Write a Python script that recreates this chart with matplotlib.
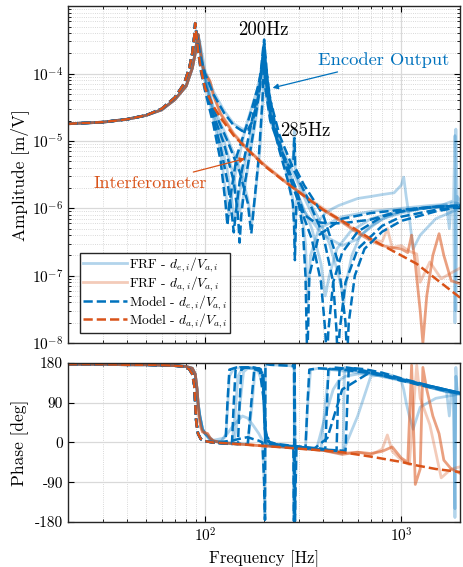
import numpy as np
import matplotlib
matplotlib.use('Agg')
import matplotlib.pyplot as plt
from matplotlib.lines import Line2D

plt.rcParams['font.family'] = 'serif'
plt.rcParams['font.serif'] = ['cmr10']
plt.rcParams['mathtext.fontset'] = 'cm'
plt.rcParams['axes.formatter.use_mathtext'] = True
plt.rcParams['axes.unicode_minus'] = False

BLUE = '#0072BD'
ORANGE = '#D95319'

# --- common low frequency part (identical for all curves) ---
frf_lf_f = [20, 30, 40, 50, 60, 70, 80, 86, 89, 91, 92]
frf_lf_amp = [1.8e-5, 1.9e-5, 2.1e-5, 2.4e-5, 2.9e-5, 4.1e-5, 6.5e-5, 1.2e-4, 2.0e-4, 3.2e-4, 3.8e-4]
frf_lf_ph = [177, 177, 176, 176, 175, 174, 172, 168, 155, 120, 90]

mod_lf_f = [20, 30, 40, 50, 60, 70, 78, 83, 86, 88, 89]
mod_lf_amp = [1.8e-5, 1.9e-5, 2.1e-5, 2.4e-5, 3.0e-5, 4.4e-5, 7.0e-5, 1.2e-4, 2.0e-4, 3.5e-4, 5.6e-4]
mod_lf_ph = [177, 177, 176, 176, 175, 174, 172, 166, 155, 130, 90]

# --- measured FRF, encoder (d_e / V_a) ---
f1_f = [94, 97, 100, 105, 110, 120, 130, 137, 142, 147, 155, 170, 185, 195, 199, 201, 204, 215, 240, 270, 300, 350, 390, 410, 430, 470, 550, 700, 900, 1100, 1400, 1700, 1850, 1880, 1900, 1930, 2000]
f1_amp = [2.5e-4, 1.3e-4, 8.5e-5, 4.5e-5, 2.6e-5, 1e-5, 3.5e-6, 1.3e-6, 6.5e-7, 1.2e-6, 3e-6, 1.2e-5, 4.5e-5, 1.4e-4, 2.5e-4, 2e-4, 8e-5, 3e-5, 9e-6, 3.5e-6, 1.5e-6, 5e-7, 1.5e-7, 5e-8, 1e-7, 2.5e-7, 4.5e-7, 7e-7, 8.5e-7, 9.5e-7, 1.05e-6, 1.1e-6, 1e-6, 2e-8, 1.5e-5, 1.2e-6, 1.15e-6]
f1_ph = [60, 30, 20, 8, 3, 0, -2, -3, 60, 150, 168, 170, 168, 160, 120, 40, -5, -8, -8, -10, -12, -14, -16, 90, 165, 168, 165, 158, 148, 138, 125, 115, 112, -150, 150, 112, 110]

f2_f = [94, 97, 100, 105, 110, 125, 140, 150, 157, 165, 180, 195, 199, 202, 206, 220, 250, 290, 330, 370, 410, 450, 480, 520, 600, 700, 800, 920, 1000, 1030, 1060, 1100, 1150, 1250, 1500, 2000]
f2_amp = [2.6e-4, 1.4e-4, 9e-5, 5e-5, 2.9e-5, 1e-5, 3e-6, 9e-7, 1.5e-6, 4e-6, 1.8e-5, 9e-5, 2.2e-4, 1.6e-4, 6e-5, 2.2e-5, 7e-6, 2.8e-6, 1.2e-6, 6e-7, 8.5e-7, 1e-6, 1.1e-6, 1.2e-6, 1.4e-6, 1.5e-6, 1.6e-6, 1.7e-6, 2.2e-6, 2.9e-6, 1.5e-6, 7.4e-7, 2.5e-7, 4e-7, 7e-7, 1e-6]
f2_ph = [60, 30, 20, 8, 3, 0, -2, 80, 160, 168, 168, 160, 110, 20, -5, -8, -10, -12, -14, -15, 60, 120, 140, 150, 155, 155, 150, 145, 140, 120, 90, 60, 30, 80, 100, 110]

f3_f = [94, 97, 100, 110, 130, 150, 165, 173, 180, 190, 197, 201, 205, 215, 240, 270, 282, 284, 285.5, 288, 300, 330, 380, 430, 480, 505, 510, 515, 560, 620, 800, 1000, 1300, 1600, 1850, 1880, 1900, 1930, 2000]
f3_amp = [2.6e-4, 1.4e-4, 9e-5, 3.2e-5, 1.1e-5, 4e-6, 1.4e-6, 6e-7, 1.5e-6, 7e-6, 4e-5, 1.2e-4, 5e-5, 2e-5, 8e-6, 4e-6, 6e-6, 1.2e-5, 1.5e-5, 4e-6, 2.5e-6, 1.5e-6, 7e-7, 3e-7, 1e-7, 5e-8, 4e-8, 6e-8, 2e-7, 4e-7, 7e-7, 8.5e-7, 1e-6, 1.1e-6, 1.3e-6, 1.2e-5, 3e-8, 1.5e-6, 1.3e-6]
f3_ph = [60, 30, 20, 3, -1, -3, -4, 80, 165, 168, 150, 40, -5, -8, -10, -12, -12, -178, 178, -12, -13, -14, -16, -18, -19, -20, 90, 170, 168, 165, 155, 142, 128, 118, 112, -170, 170, 112, 110]

f4_f = [94, 97, 100, 110, 125, 140, 155, 165, 175, 188, 196, 200, 202, 203, 215, 240, 265, 280, 284, 287, 292, 310, 325, 333, 345, 380, 500, 700, 1000, 1400, 1700, 1760, 1800, 1900, 2000]
f4_amp = [2.9e-4, 1.8e-4, 1.1e-4, 5.5e-5, 2.8e-5, 1.8e-5, 1.5e-5, 1.5e-5, 2e-5, 5e-5, 1.4e-4, 2.6e-4, 1.6e-4, 1.1e-4, 2.7e-5, 7.5e-6, 2.8e-6, 1.4e-6, 8e-7, 3e-7, 1.3e-6, 1e-6, 3e-7, 4e-8, 2e-7, 5e-7, 7.5e-7, 9e-7, 1e-6, 1.1e-6, 1.15e-6, 5e-7, 1.2e-6, 1.2e-6, 1.15e-6]
f4_ph = [60, 30, 20, 5, 10, 40, 60, 55, 40, 20, 5, -90, -175, 178, 176, 175, 174, 173, 178, -178, -12, -12, -14, 80, 165, 168, 162, 155, 140, 125, 118, 60, 115, 112, 110]

f5_f = [94, 97, 100, 110, 120, 128, 133, 140, 160, 185, 198, 202, 208, 230, 270, 320, 400, 500, 600, 700, 850, 1000, 1300, 1600, 2000]
f5_amp = [2.4e-4, 1.2e-4, 7.5e-5, 2.2e-5, 7e-6, 1.5e-6, 8e-7, 2.5e-6, 1.5e-5, 6e-5, 1.6e-4, 1.2e-4, 4e-5, 1.2e-5, 3e-6, 9e-7, 4e-7, 2.8e-7, 3.5e-7, 5.5e-7, 7.5e-7, 9e-7, 1e-6, 1.05e-6, 1.1e-6]
f5_ph = [60, 30, 20, 3, 0, 20, 150, 168, 170, 165, 130, 30, -5, -8, -10, -13, -18, -25, 60, 150, 155, 145, 130, 118, 110]

# --- measured FRF, interferometer (d_a / V_a) ---
o1_f = [93, 95, 97, 100, 103, 106, 110, 120, 140, 165, 200, 250, 300, 400, 500, 600, 700, 800, 900, 1000, 1080, 1130, 1180, 1250, 1290, 1350, 1450, 1560, 1650, 1800, 2000]
o1_amp = [3.0e-4, 1.9e-4, 1.3e-4, 9.5e-5, 8.7e-5, 7.5e-5, 4.8e-5, 2.5e-5, 1.25e-5, 7.4e-6, 4.4e-6, 2.6e-6, 1.75e-6, 9.5e-7, 6.2e-7, 4.3e-7, 3.3e-7, 2.8e-7, 2.6e-7, 2.5e-7, 2.2e-7, 4e-7, 1.5e-7, 3e-8, 1e-8, 5e-8, 2e-7, 4.2e-7, 2e-7, 8.4e-8, 7.6e-8]
o1_ph = [60, 35, 24, 22, 20, 10, 4, 0, -3, -5, -8, -10, -13, -18, -27, -22, -25, -20, -10, -35, -45, 175, -95, -60, 170, 120, 60, 20, -40, -60, -70]

o2_f = [93, 95, 97, 100, 103, 106, 110, 120, 140, 165, 200, 250, 300, 400, 500, 600, 700, 800, 850, 900, 1000, 1100, 1200, 1250, 1400, 1600, 1800, 2000]
o2_amp = [3.1e-4, 2e-4, 1.35e-4, 1e-4, 9e-5, 7.8e-5, 5e-5, 2.6e-5, 1.3e-5, 7.6e-6, 4.5e-6, 2.7e-6, 1.8e-6, 1e-6, 6.5e-7, 4.5e-7, 3.5e-7, 3.2e-7, 5e-7, 2.6e-7, 2.8e-7, 2.3e-7, 2.1e-7, 8e-8, 1.6e-7, 9e-8, 1.1e-7, 1.3e-7]
o2_ph = [60, 35, 24, 22, 20, 10, 4, 0, -3, -5, -8, -10, -13, -18, -24, -22, -28, -15, 17, -20, -40, -50, 175, 100, 40, -80, -60, -55]

# --- model, encoder ---
e1_f = [90, 92, 95, 100, 110, 120, 130, 137, 140, 143, 150, 165, 180, 192, 198, 200, 202, 210, 230, 260, 300, 350, 390, 410, 418, 425, 450, 500, 600, 800, 1000, 1500, 2000]
e1_amp = [4.2e-4, 2.2e-4, 1.2e-4, 6e-5, 2.2e-5, 8e-6, 2.5e-6, 8e-7, 4.4e-7, 8e-7, 2.5e-6, 1e-5, 3.5e-5, 1e-4, 2.5e-4, 3.2e-4, 2.2e-4, 6e-5, 1.5e-5, 4e-6, 1.2e-6, 3.5e-7, 8e-8, 1.5e-8, 5e-9, 1.5e-8, 8e-8, 2.2e-7, 4.5e-7, 7.5e-7, 9e-7, 1.05e-6, 1.1e-6]
e1_ph = [50, 20, 8, 3, 0, -2, -3, -4, 90, 165, 170, 170, 169, 166, 150, 90, 30, 2, -3, -6, -9, -12, -14, -15, 80, 165, 170, 168, 163, 152, 142, 125, 112]

e2_f = [90, 92, 95, 100, 110, 125, 140, 147, 150, 153, 160, 175, 190, 197, 200, 203, 215, 240, 280, 330, 400, 450, 468, 475, 485, 520, 600, 800, 1000, 1500, 2000]
e2_amp = [4.2e-4, 2.3e-4, 1.3e-4, 6.5e-5, 2.5e-5, 9e-6, 2.5e-6, 8e-7, 3.1e-7, 8e-7, 2.5e-6, 1.2e-5, 6e-5, 1.8e-4, 2.5e-4, 1.5e-4, 4e-5, 1.2e-5, 4e-6, 1.5e-6, 4e-7, 8e-8, 1.5e-8, 5e-9, 1.5e-8, 8e-8, 2.5e-7, 5.5e-7, 7.5e-7, 9.5e-7, 1.05e-6]
e2_ph = [50, 20, 8, 3, 0, -2, -3, -4, 90, 165, 170, 170, 166, 150, 90, 20, -3, -6, -9, -12, -16, -18, -19, 80, 165, 170, 166, 152, 140, 124, 111]

e3_f = [90, 92, 95, 100, 110, 130, 150, 165, 172, 178, 188, 196, 200, 203, 215, 240, 270, 282, 284, 285.5, 288, 320, 400, 480, 520, 530, 540, 580, 650, 800, 1000, 1500, 2000]
e3_amp = [4.3e-4, 2.5e-4, 1.4e-4, 7e-5, 3e-5, 1e-5, 3.5e-6, 1.2e-6, 4.2e-7, 1.2e-6, 6e-6, 4e-5, 1.5e-4, 6e-5, 2e-5, 8e-6, 4e-6, 5e-6, 9e-6, 1.1e-5, 4e-6, 2.2e-6, 8e-7, 1.5e-7, 2e-8, 6e-9, 2e-8, 1e-7, 2.5e-7, 4.5e-7, 6.5e-7, 9e-7, 1.05e-6]
e3_ph = [50, 20, 8, 3, 0, -2, -3, -4, 90, 165, 168, 155, 90, 20, -3, -6, -9, -10, -178, 178, -12, -13, -16, -18, -19, 80, 165, 168, 166, 158, 145, 125, 112]

e4_f = [90, 92, 95, 100, 110, 125, 140, 155, 165, 175, 188, 196, 200, 202, 203, 215, 240, 265, 280, 284, 287, 292, 300, 315, 325, 332, 340, 380, 500, 700, 1000, 1500, 2000]
e4_amp = [4.4e-4, 2.8e-4, 1.7e-4, 1e-4, 5e-5, 2.6e-5, 1.7e-5, 1.4e-5, 1.45e-5, 2e-5, 5e-5, 1.5e-4, 3e-4, 1.6e-4, 1e-4, 2.5e-5, 7e-6, 2.5e-6, 1.2e-6, 6e-7, 1.7e-7, 1.2e-6, 1.2e-6, 5e-7, 1e-7, 5e-9, 1e-7, 4e-7, 7e-7, 8.5e-7, 9.5e-7, 1.05e-6, 1.1e-6]
e4_ph = [50, 20, 8, 3, 1, 2, 5, 10, 12, 8, 4, 0, -90, -175, 178, 176, 175, 174, 173, 178, -178, -12, -12, -13, -14, 80, 165, 168, 165, 157, 143, 125, 112]

e5_f = [90, 92, 95, 100, 110, 120, 127, 130, 133, 145, 170, 190, 200, 205, 220, 250, 290, 320, 360, 420, 500, 700, 900, 1200, 2000]
e5_amp = [4.2e-4, 2.2e-4, 1.1e-4, 5.5e-5, 1.8e-5, 5e-6, 1.2e-6, 5.6e-7, 1.2e-6, 6e-6, 2.5e-5, 8e-5, 2e-4, 8e-5, 2e-5, 6e-6, 2e-6, 8e-7, 6.3e-7, 6e-7, 6e-7, 6.8e-7, 8.5e-7, 1e-6, 1.1e-6]
e5_ph = [50, 20, 8, 3, 0, -1, -2, 90, 165, 170, 169, 162, 90, 15, -3, -6, -9, -11, -14, 10, 120, 160, 148, 132, 110]

# --- model, interferometer ---
mi_f = [90, 91, 92, 95, 100, 110, 120, 140, 165, 200, 250, 300, 400, 500, 700, 1000, 1200, 1500, 2000]
mi_amp = [4.2e-4, 3.0e-4, 2.2e-4, 1.2e-4, 6e-5, 3.3e-5, 2.2e-5, 1.2e-5, 7.4e-6, 4.3e-6, 2.6e-6, 1.75e-6, 9.5e-7, 6.5e-7, 3.5e-7, 2e-7, 1.5e-7, 9e-8, 4.7e-8]
mi_ph = [50, 30, 20, 8, 3, 0, -1, -3, -5, -8, -11, -14, -18, -22, -32, -44, -52, -60, -67]

frf_enc = [(f1_f, f1_amp, f1_ph), (f2_f, f2_amp, f2_ph), (f3_f, f3_amp, f3_ph),
           (f4_f, f4_amp, f4_ph), (f5_f, f5_amp, f5_ph)]
frf_int = [(o1_f, o1_amp, o1_ph, 0.55), (o2_f, o2_amp, o2_ph, 0.3)]
mod_enc = [(e1_f, e1_amp, e1_ph), (e2_f, e2_amp, e2_ph), (e3_f, e3_amp, e3_ph),
           (e4_f, e4_amp, e4_ph), (e5_f, e5_amp, e5_ph)]

fig = plt.figure(figsize=(4.63, 5.67), dpi=100)
ax1 = fig.add_axes([0.147, 0.395, 0.847, 0.594])
ax2 = fig.add_axes([0.147, 0.0794, 0.847, 0.2804], sharex=ax1)

for f, a, p in frf_enc:
    ff = np.concatenate([frf_lf_f, f])
    ax1.plot(ff, np.concatenate([frf_lf_amp, a]), color=BLUE, alpha=0.3, lw=2.0)
    ax2.plot(ff, np.concatenate([frf_lf_ph, p]), color=BLUE, alpha=0.3, lw=2.0)
for f, a, p, al in frf_int:
    ff = np.concatenate([frf_lf_f, f])
    ax1.plot(ff, np.concatenate([frf_lf_amp, a]), color=ORANGE, alpha=al, lw=2.0)
    ax2.plot(ff, np.concatenate([frf_lf_ph, p]), color=ORANGE, alpha=al, lw=2.0)

for f, a, p in mod_enc:
    ff = np.concatenate([mod_lf_f, f])
    ax1.plot(ff, np.concatenate([mod_lf_amp, a]), color=BLUE, ls='--', lw=1.8)
    ax2.plot(ff, np.concatenate([mod_lf_ph, p]), color=BLUE, ls='--', lw=1.8)
ff = np.concatenate([mod_lf_f, mi_f])
ax1.plot(ff, np.concatenate([mod_lf_amp, mi_amp]), color=ORANGE, ls='--', lw=1.8)
ax2.plot(ff, np.concatenate([mod_lf_ph, mi_ph]), color=ORANGE, ls='--', lw=1.8)

ax1.set_xscale('log')
ax1.set_yscale('log')
ax1.set_xlim(20, 2000)
ax1.set_ylim(1e-8, 1e-3)
ax1.set_yticks([1e-8, 1e-7, 1e-6, 1e-5, 1e-4])
ax1.set_ylabel('Amplitude [m/V]', fontsize=12.5)
ax1.tick_params(labelbottom=False)

ax2.set_ylim(-180, 180)
ax2.set_yticks([-180, -90, 0, 90, 180])
ax2.set_yticklabels(['-180', '-90', '0', '90', '180'])
ax2.set_ylabel('Phase [deg]', fontsize=12.5)
ax2.set_xlabel('Frequency [Hz]', fontsize=12)

for ax in (ax1, ax2):
    ax.tick_params(which='both', direction='in', top=True, right=True, labelsize=11)
    ax.tick_params(which='major', length=4)
    ax.tick_params(which='minor', length=2)
    ax.grid(which='major', color='#d9d9d9', lw=0.9)
    ax.grid(which='minor', color='#cccccc', lw=0.6, ls=':')
    ax.set_axisbelow(True)
    for s in ax.spines.values():
        s.set_linewidth(1.0)
        s.set_color('#262626')
    ax.yaxis.set_label_coords(-0.10, 0.5)
ax2.grid(which='minor', axis='y', visible=False)

ax1.text(198, 4.5e-4, '200Hz', ha='center', va='center', fontsize=13.5)
ax1.text(326, 1.41e-5, '285Hz', ha='center', va='center', fontsize=13.5)
ax1.annotate('Encoder Output', xy=(214, 6.0e-5), xytext=(815, 1.56e-4),
             ha='center', va='center', color=BLUE, fontsize=13.3,
             arrowprops=dict(arrowstyle='-|>', color=BLUE, lw=0.9, mutation_scale=8))
ax1.annotate('Interferometer', xy=(165, 5.6e-6), xytext=(52.6, 2.36e-6),
             ha='center', va='center', color=ORANGE, fontsize=13,
             arrowprops=dict(arrowstyle='-|>', color=ORANGE, lw=0.9, mutation_scale=8))

handles = [Line2D([], [], color=BLUE, alpha=0.3, lw=2.0),
           Line2D([], [], color=ORANGE, alpha=0.3, lw=2.0),
           Line2D([], [], color=BLUE, ls='--', lw=1.8),
           Line2D([], [], color=ORANGE, ls='--', lw=1.8)]
labels = ['FRF - $d_{e,i}/V_{a,i}$', 'FRF - $d_{a,i}/V_{a,i}$',
          'Model - $d_{e,i}/V_{a,i}$', 'Model - $d_{a,i}/V_{a,i}$']
leg = ax1.legend(handles, labels, loc='lower left', bbox_to_anchor=(0.03, 0.03),
                 fontsize=9.7, fancybox=False, framealpha=1, edgecolor='#262626',
                 handlelength=3.3, handletextpad=0.15, borderpad=0.2, labelspacing=0.0,
                 borderaxespad=0)
leg.get_frame().set_linewidth(1.0)

fig.savefig('out.png', dpi=100)
